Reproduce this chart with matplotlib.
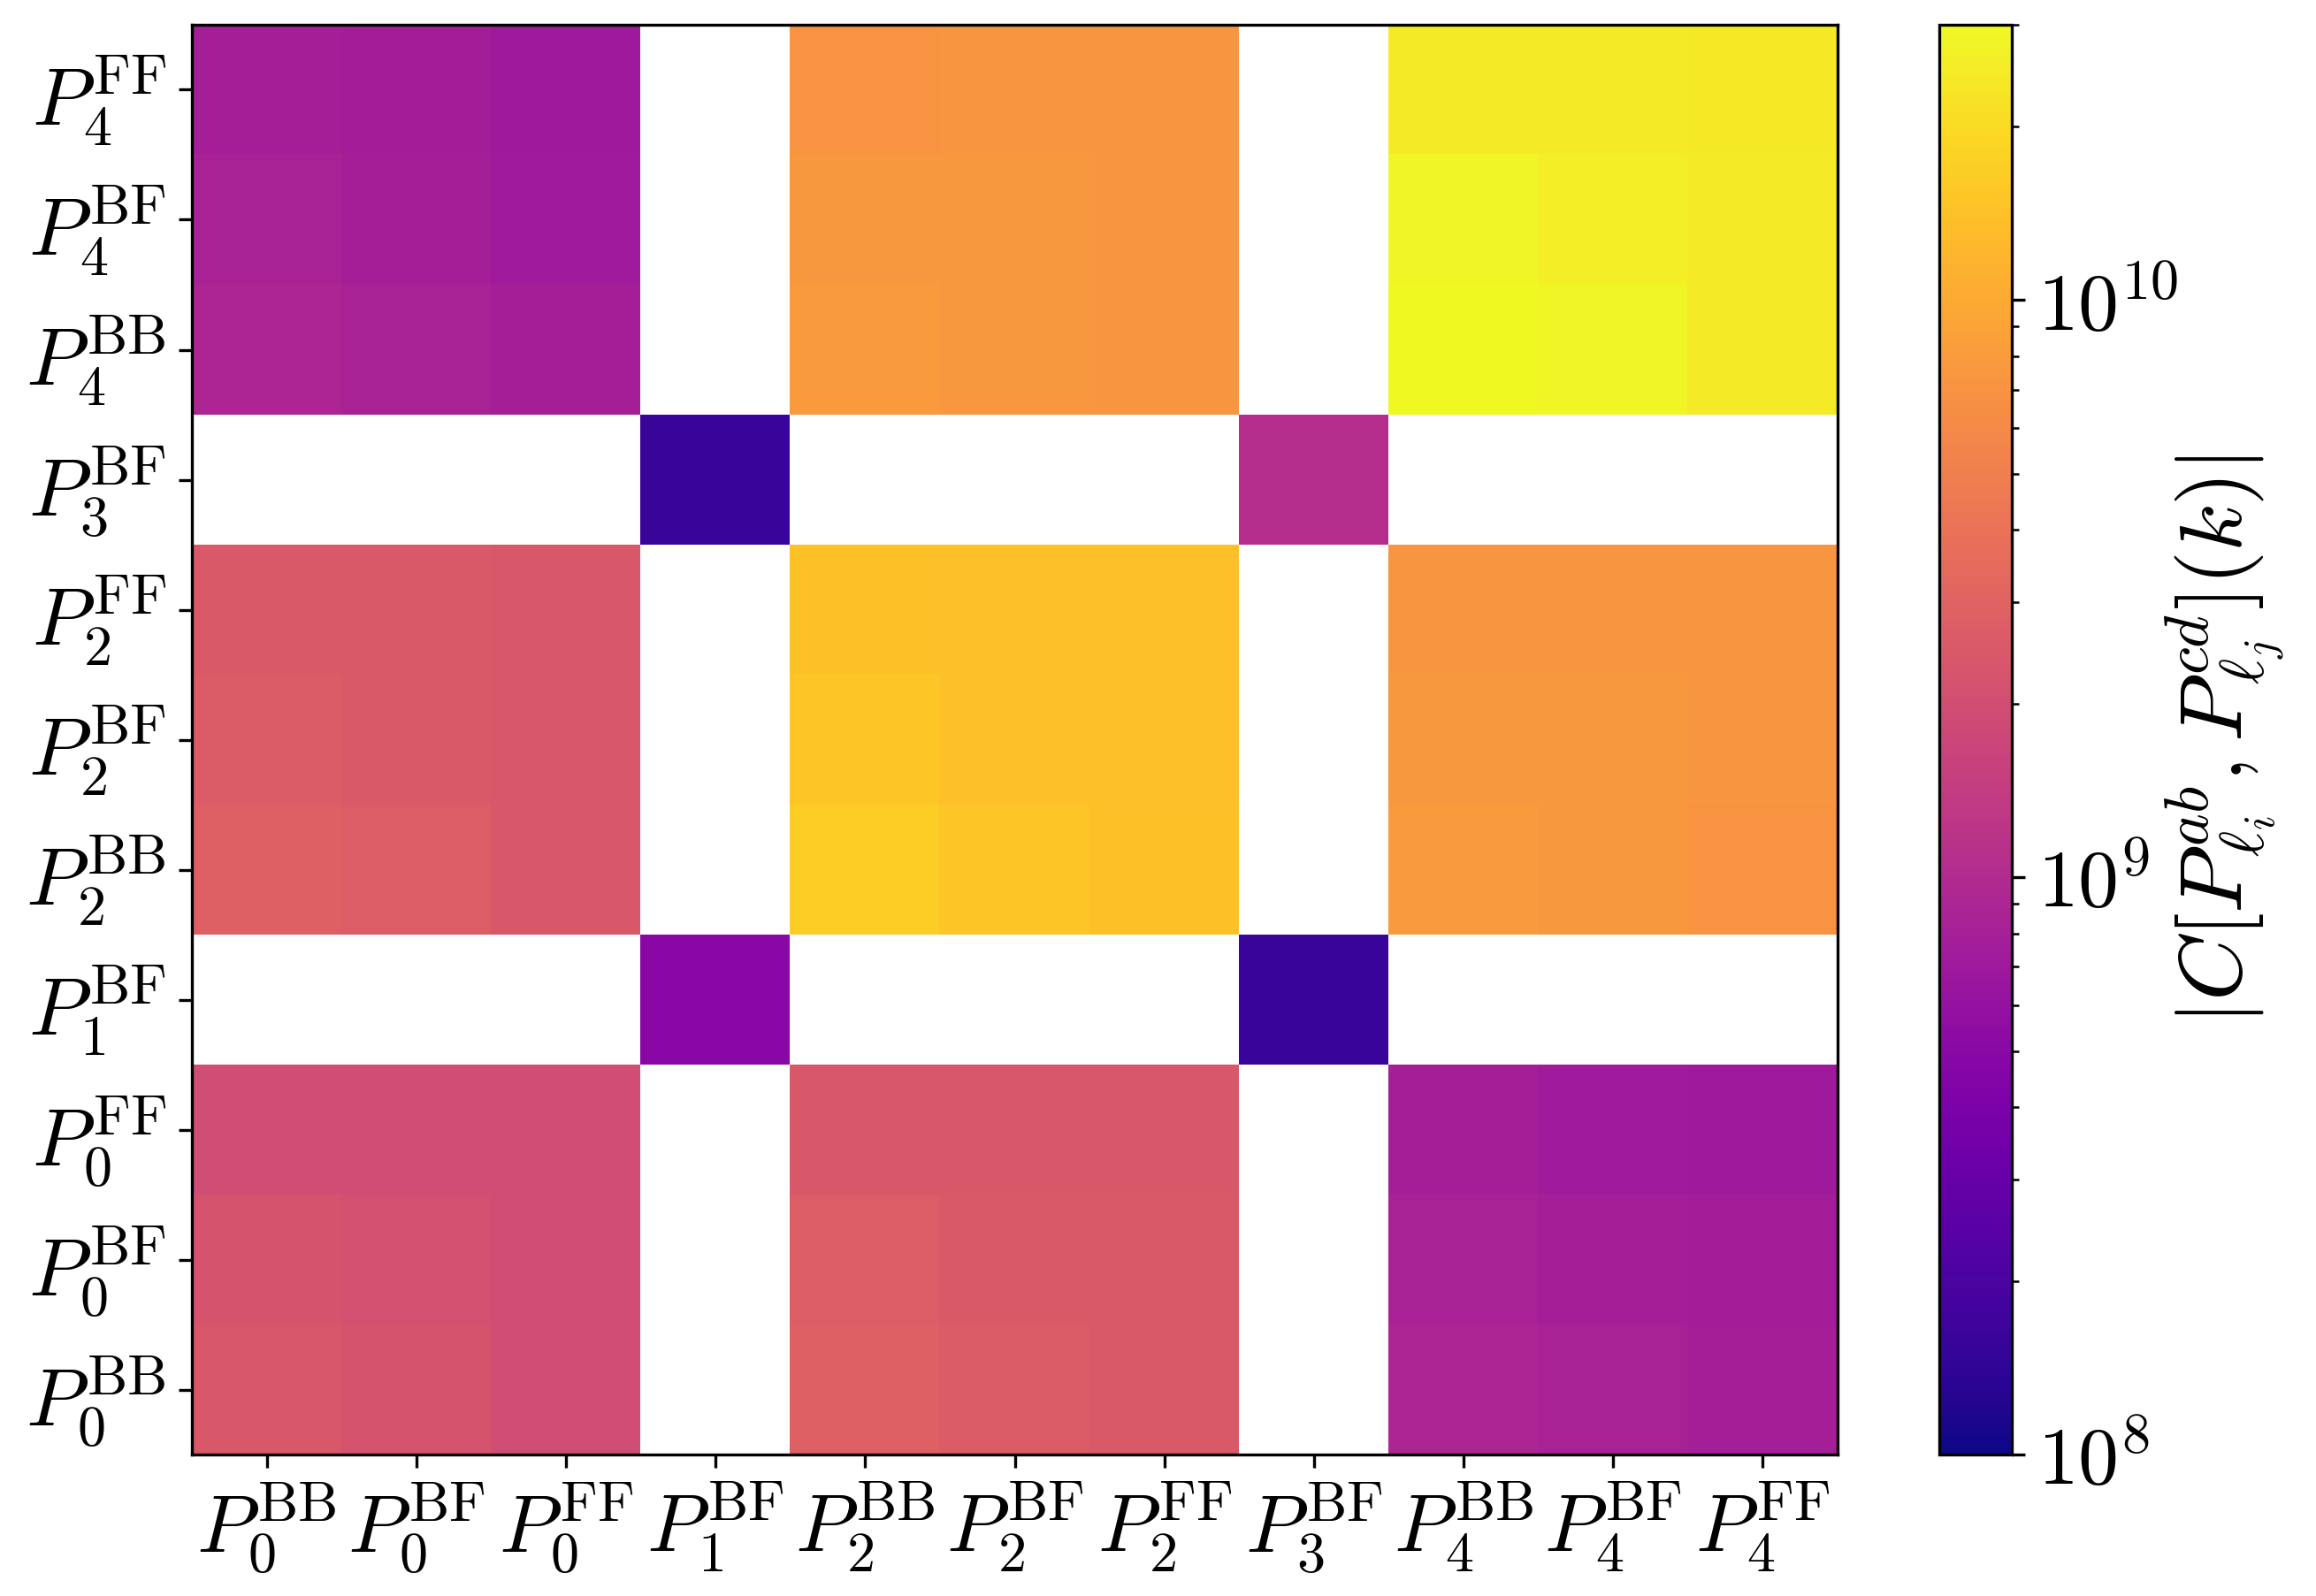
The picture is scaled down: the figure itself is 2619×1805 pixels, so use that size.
import numpy as np
import matplotlib
matplotlib.use("Agg")
import matplotlib.pyplot as plt
from matplotlib.colors import LogNorm

plt.rcParams['mathtext.fontset'] = 'cm'
plt.rcParams['font.family'] = 'serif'
plt.rcParams['font.serif'] = ['cmr10', 'DejaVu Serif']
plt.rcParams['axes.formatter.use_mathtext'] = True

labels = [r'$P_0^{\mathrm{BB}}$', r'$P_0^{\mathrm{BF}}$', r'$P_0^{\mathrm{FF}}$',
          r'$P_1^{\mathrm{BF}}$',
          r'$P_2^{\mathrm{BB}}$', r'$P_2^{\mathrm{BF}}$', r'$P_2^{\mathrm{FF}}$',
          r'$P_3^{\mathrm{BF}}$',
          r'$P_4^{\mathrm{BB}}$', r'$P_4^{\mathrm{BF}}$', r'$P_4^{\mathrm{FF}}$']

n = np.nan
# |covariance| in units of 1e9, rows/cols ordered as labels (row 0 at bottom)
row_P0BB = [2.44, 2.24, 1.94, n, 2.89, 2.60, 2.51, n, 0.90, 0.84, 0.78]
row_P0BF = [2.24, 2.11, 1.94, n, 2.66, 2.48, 2.48, n, 0.84, 0.78, 0.76]
row_P0FF = [1.94, 1.94, 1.94, n, 2.44, 2.44, 2.44, n, 0.78, 0.74, 0.72]
row_P1BF = [n, n, n, 0.49, n, n, n, 0.158, n, n, n]
row_P2BB = [2.89, 2.66, 2.44, n, 17.0, 15.1, 14.3, n, 7.9, 7.6, 7.2]
row_P2BF = [2.60, 2.48, 2.44, n, 15.1, 13.9, 13.9, n, 7.6, 7.6, 7.3]
row_P2FF = [2.51, 2.48, 2.44, n, 14.3, 13.9, 13.9, n, 7.3, 7.3, 7.3]
row_P3BF = [n, n, n, 0.158, n, n, n, 1.05, n, n, n]
row_P4BB = [0.90, 0.84, 0.78, n, 7.9, 7.6, 7.3, n, 30.0, 28.4, 25.0]
row_P4BF = [0.84, 0.78, 0.74, n, 7.6, 7.6, 7.3, n, 28.4, 26.0, 25.0]
row_P4FF = [0.78, 0.76, 0.72, n, 7.2, 7.3, 7.3, n, 25.0, 25.0, 24.3]

cov = np.array([row_P0BB, row_P0BF, row_P0FF, row_P1BF, row_P2BB, row_P2BF,
                row_P2FF, row_P3BF, row_P4BB, row_P4BF, row_P4FF]) * 1e9

fig = plt.figure(figsize=(2619 / 300, 1805 / 300), dpi=300)
ax = fig.add_axes([0.0829, 0.0886, 0.7105, 0.8959])
cax = fig.add_axes([0.8373, 0.0886, 0.0313, 0.8959])

im = ax.imshow(cov, cmap='plasma', norm=LogNorm(vmin=1e8, vmax=3.0e10),
               origin='lower', aspect='auto', interpolation='nearest')

ax.set_xticks(np.arange(len(labels)))
ax.set_xticklabels(labels, fontsize=22)
ax.set_yticks(np.arange(len(labels)))
ax.set_yticklabels(labels, fontsize=22)

cb = fig.colorbar(im, cax=cax)
cb.set_ticks([1e8, 1e9, 1e10])
cb.set_ticklabels([r'$10^{8}$', r'$10^{9}$', r'$10^{10}$'])
cb.ax.tick_params(labelsize=22)
cb.set_label(r'$|C[P^{ab}_{\ell_i}, P^{cd}_{\ell_j}](k)|$', fontsize=24, labelpad=-4)

fig.savefig('out.png', dpi=300)
